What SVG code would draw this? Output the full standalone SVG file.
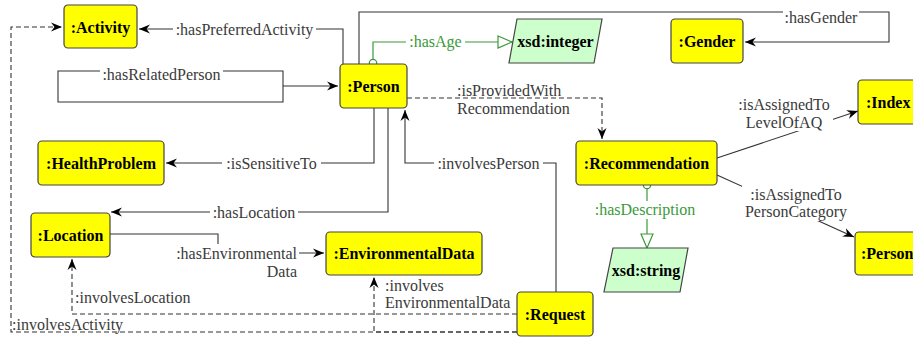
<svg xmlns="http://www.w3.org/2000/svg" width="913" height="340" viewBox="0 0 913 340">
<style>
.node rect,.node polygon{stroke:#444;stroke-width:1.2}
.cls{fill:#ffff00}
.dt{fill:#ccffcc}
.nt{font-size:16px;font-weight:bold;fill:#000}
.el{font-size:16px;fill:#3a3a3a}
.gl{font-size:16px;fill:#3a9a3a}
.e{fill:none;stroke:#333;stroke-width:1.1}
.d{stroke-dasharray:5,3}
.g{fill:none;stroke:#3a9a3a;stroke-width:1.2}
.bg{fill:#fff}
</style>
<defs>
<marker id="arr" markerWidth="12" markerHeight="10" refX="11" refY="5" orient="auto" markerUnits="userSpaceOnUse">
<path d="M0,0.5 L11,5 L0,9.5 L3.5,5 z" fill="#000"/>
</marker>
<marker id="tri" markerWidth="16" markerHeight="14" refX="15" refY="7" orient="auto" markerUnits="userSpaceOnUse">
<path d="M1,1 L15,7 L1,13 z" fill="#fff" stroke="#3a9a3a" stroke-width="1.2"/>
</marker>
</defs>

<g id="connectors" font-family="'Liberation Serif', 'DejaVu Serif', serif">
<!-- hasPreferredActivity -->
<path class="e" d="M343,64 L343,29 L139,29" marker-end="url(#arr)"/>
<rect class="bg" x="173" y="21" width="143" height="17"/>
<text class="el" x="244.5" y="35" text-anchor="middle">:hasPreferredActivity</text>
<!-- hasGender -->
<path class="e" d="M359,64 L359,12 L889,12 L889,42 L745,42" marker-end="url(#arr)"/>
<rect class="bg" x="783" y="9" width="76" height="17"/>
<text class="el" x="821" y="23" text-anchor="middle">:hasGender</text>
<!-- hasAge -->
<path class="g" d="M373,60 L373,42 L512,42" marker-end="url(#tri)"/>
<circle cx="373" cy="63" r="3.7" fill="#fff" stroke="#3a9a3a" stroke-width="1.2"/>
<rect class="bg" x="406" y="33" width="59" height="18"/>
<text class="gl" x="435.5" y="47" text-anchor="middle">:hasAge</text>
<!-- hasRelatedPerson -->
<path class="e" d="M283,86 L338,86" marker-end="url(#arr)"/>
<path class="e" d="M283,86 L283,102 L58,102 L58,71 L283,71 Z"/>
<rect class="bg" x="100" y="66" width="123" height="17"/>
<text class="el" x="161.5" y="80" text-anchor="middle">:hasRelatedPerson</text>
<!-- isProvidedWithRecommendation -->
<path class="e d" d="M407,98 L602,98 L602,139" marker-end="url(#arr)"/>
<text class="el" x="457" y="96">:isProvidedWith</text>
<text class="el" x="457" y="114">Recommendation</text>
<!-- isAssignedToLevelOfAQ -->
<path class="e" d="M717,158 L858,111" marker-end="url(#arr)"/>
<rect class="bg" x="736" y="97" width="97" height="34"/>
<text class="el" x="784" y="110" text-anchor="middle">:isAssignedTo</text>
<text class="el" x="784" y="128" text-anchor="middle">LevelOfAQ</text>
<!-- isAssignedToPersonCategory -->
<path class="e" d="M717,175 L854,237" marker-end="url(#arr)"/>
<rect class="bg" x="742" y="186" width="107" height="35"/>
<text class="el" x="796" y="200" text-anchor="middle">:isAssignedTo</text>
<text class="el" x="796" y="217" text-anchor="middle">PersonCategory</text>
<!-- hasDescription -->
<path class="g" d="M647,189 L647,248" marker-end="url(#tri)"/>
<circle cx="647" cy="185" r="3.7" fill="#fff" stroke="#3a9a3a" stroke-width="1.2"/>
<rect class="bg" x="593" y="201" width="104" height="18"/>
<text class="gl" x="645" y="215" text-anchor="middle">:hasDescription</text>
<!-- isSensitiveTo -->
<path class="e" d="M374,108 L374,163 L166,163" marker-end="url(#arr)"/>
<rect class="bg" x="222" y="155" width="99" height="17"/>
<text class="el" x="271.5" y="169" text-anchor="middle">:isSensitiveTo</text>
<!-- hasLocation -->
<path class="e" d="M388,108 L388,212 L111,212" marker-end="url(#arr)"/>
<rect class="bg" x="210" y="204" width="88" height="17"/>
<text class="el" x="254" y="218" text-anchor="middle">:hasLocation</text>
<!-- involvesPerson -->
<path class="e" d="M556,292 L556,163 L405,163 L405,110" marker-end="url(#arr)"/>
<rect class="bg" x="434" y="155" width="109" height="17"/>
<text class="el" x="488.5" y="169" text-anchor="middle">:involvesPerson</text>
<!-- hasEnvironmentalData -->
<path class="e" d="M110,234 L218,234 L218,253 L324,253" marker-end="url(#arr)"/>
<rect class="bg" x="174" y="244" width="125" height="37"/>
<text class="el" x="297" y="259" text-anchor="end">:hasEnvironmental</text>
<text class="el" x="297" y="277" text-anchor="end">Data</text>
<!-- involvesEnvironmentalData -->
<path class="e d" d="M517,332 L374,332 L374,277" marker-end="url(#arr)"/>
<text class="el" x="385" y="291">:involves</text>
<text class="el" x="385" y="308">EnvironmentalData</text>
<!-- involvesLocation -->
<path class="e d" d="M517,314 L72,314 L72,259" marker-end="url(#arr)"/>
<text class="el" x="75" y="303">:involvesLocation</text>
<!-- involvesActivity -->
<path class="e d" d="M517,332 L11,332 L11,27 L62,27" marker-end="url(#arr)"/>
<text class="el" x="12" y="330">:involvesActivity</text>
</g>

<g font-family="'Liberation Serif', 'DejaVu Serif', serif">
<g id="Activity" class="node"><rect class="cls" x="64" y="5" width="73" height="43" rx="4"/><text class="nt" x="100.5" y="33" text-anchor="middle">:Activity</text></g>
<g id="Person" class="node"><rect class="cls" x="340" y="64" width="67" height="44" rx="4"/><text class="nt" x="373.5" y="92" text-anchor="middle">:Person</text></g>
<g id="Gender" class="node"><rect class="cls" x="671" y="19" width="72" height="44" rx="4"/><text class="nt" x="707" y="47" text-anchor="middle">:Gender</text></g>
<g id="XsdInteger" class="node"><polygon class="dt" points="517,19 602,19 594,63 509,63"/><text class="nt" x="555.5" y="47" text-anchor="middle">xsd:integer</text></g>
<g id="Index" class="node"><rect class="cls" x="858" y="80" width="80" height="44" rx="4"/><text class="nt" x="866" y="108">:Index</text></g>
<g id="HealthProblem" class="node"><rect class="cls" x="38" y="141" width="126" height="44" rx="4"/><text class="nt" x="101" y="169" text-anchor="middle">:HealthProblem</text></g>
<g id="Recommendation" class="node"><rect class="cls" x="576" y="141" width="141" height="44" rx="4"/><text class="nt" x="646.5" y="169" text-anchor="middle">:Recommendation</text></g>
<g id="XsdString" class="node"><polygon class="dt" points="613,248 688,248 680,292 604,292"/><text class="nt" x="646" y="276" text-anchor="middle">xsd:string</text></g>
<g id="Location" class="node"><rect class="cls" x="31" y="213" width="79" height="44" rx="4"/><text class="nt" x="70.5" y="241" text-anchor="middle">:Location</text></g>
<g id="EnvironmentalData" class="node"><rect class="cls" x="326" y="232" width="156" height="43" rx="4"/><text class="nt" x="404" y="259" text-anchor="middle">:EnvironmentalData</text></g>
<g id="Request" class="node"><rect class="cls" x="517" y="292" width="76" height="44" rx="4"/><text class="nt" x="555" y="320" text-anchor="middle">:Request</text></g>
<g id="PersonCategory" class="node"><rect class="cls" x="855" y="232" width="80" height="43" rx="4"/><text class="nt" x="861" y="259" font-size="15.5">:Person</text></g>
</g>
</svg>
